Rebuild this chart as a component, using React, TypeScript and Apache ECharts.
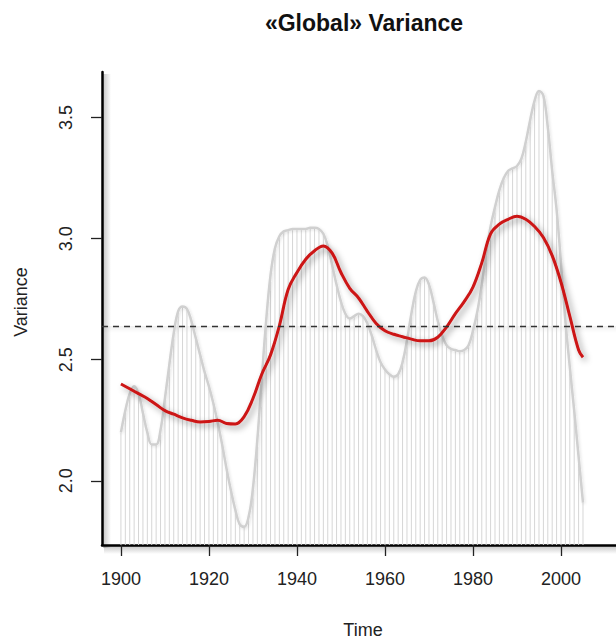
import React, { useEffect, useRef } from "react";
import * as echarts from "echarts";

const years: number[] = [];
for (let y = 1900; y <= 2005; y++) years.push(y);

const varianceValues: number[] = [
  2.20, 2.29, 2.36, 2.39, 2.36, 2.28, 2.20, 2.15, 2.15, 2.21,
  2.34, 2.48, 2.61, 2.70, 2.72, 2.71, 2.66, 2.59, 2.52, 2.45,
  2.39, 2.32, 2.24, 2.15, 2.05, 1.96, 1.88, 1.82, 1.81, 1.85,
  1.97, 2.17, 2.42, 2.66, 2.85, 2.96, 3.01, 3.03, 3.035, 3.04,
  3.04, 3.04, 3.04, 3.045, 3.045, 3.04, 3.02, 2.97, 2.89, 2.81,
  2.74, 2.69, 2.67, 2.68, 2.69, 2.68, 2.65, 2.60, 2.54, 2.49,
  2.46, 2.44, 2.43, 2.44, 2.49, 2.58, 2.69, 2.78, 2.83, 2.84,
  2.81, 2.74, 2.66, 2.60, 2.56, 2.545, 2.54, 2.535, 2.54, 2.56,
  2.62, 2.70, 2.81, 2.94, 3.05, 3.13, 3.20, 3.25, 3.28, 3.29,
  3.30, 3.33, 3.40, 3.49, 3.57, 3.61, 3.59, 3.46, 3.28, 3.12,
  2.90, 2.66, 2.47, 2.29, 2.10, 1.91,
];

const smoothYears: number[] = [
  1900, 1902, 1904, 1906, 1908, 1910, 1912, 1914, 1916, 1918,
  1920, 1922, 1924, 1926, 1928, 1930, 1932, 1934, 1936, 1938,
  1940, 1942, 1944, 1946, 1948, 1950, 1952, 1954, 1956, 1958,
  1960, 1962, 1964, 1966, 1968, 1970, 1972, 1974, 1976, 1978,
  1980, 1982, 1984, 1986, 1988, 1990, 1992, 1994, 1996, 1998,
  2000, 2002, 2004, 2005,
];
const smoothValues: number[] = [
  2.40, 2.38, 2.36, 2.34, 2.315, 2.29, 2.275, 2.26, 2.25, 2.243,
  2.245, 2.25, 2.237, 2.235, 2.265, 2.34, 2.44, 2.52, 2.64, 2.79,
  2.86, 2.915, 2.95, 2.97, 2.94, 2.86, 2.795, 2.755, 2.70, 2.65,
  2.62, 2.605, 2.595, 2.585, 2.578, 2.578, 2.593, 2.635, 2.69, 2.74,
  2.80, 2.90, 3.02, 3.06, 3.08, 3.092, 3.08, 3.05, 3.005, 2.93,
  2.82, 2.68, 2.54, 2.51,
];

const meanVariance = 2.64;
const xTicks: number[] = [1900, 1920, 1940, 1960, 1980, 2000];
const yTicks: number[] = [2.0, 2.5, 3.0, 3.5];

const FONT = "'Liberation Sans', Arial, Helvetica, sans-serif";

export default function App() {
  const ref = useRef<HTMLDivElement>(null);
  useEffect(() => {
    if (!ref.current) return;
    const chart = echarts.init(ref.current, undefined, { renderer: "svg" });
    const hShadow = (a: number) =>
      new echarts.graphic.LinearGradient(0, 0, 0, 1, [
        { offset: 0, color: `rgba(0,0,0,${a})` },
        { offset: 1, color: "rgba(0,0,0,0)" },
      ]);
    const vShadow = (a: number) =>
      new echarts.graphic.LinearGradient(0, 0, 1, 0, [
        { offset: 0, color: `rgba(0,0,0,${a})` },
        { offset: 1, color: "rgba(0,0,0,0)" },
      ]);
    chart.setOption({
      animation: false,
      backgroundColor: "#ffffff",
      grid: { left: 102, right: 0, top: 72, bottom: 94 },
      xAxis: {
        type: "value",
        min: 1895.7,
        max: 2012.5,
        splitLine: { show: false },
        axisLine: { show: true, onZero: false, lineStyle: { color: "#000", width: 2.5 } },
        axisTick: { show: true, customValues: xTicks, length: 11, lineStyle: { color: "#222", width: 1.3 } },
        axisLabel: {
          customValues: xTicks,
          margin: 25,
          fontSize: 18,
          fontFamily: FONT,
          color: "#222",
          formatter: (v: number) => String(Math.round(v)),
        },
      },
      yAxis: {
        type: "value",
        min: 1.735,
        max: 3.688,
        splitLine: { show: false },
        axisLine: { show: true, onZero: false, lineStyle: { color: "#000", width: 2.5 } },
        axisTick: { show: true, customValues: yTicks, length: 11, lineStyle: { color: "#222", width: 1.3 } },
        axisLabel: {
          customValues: yTicks,
          rotate: 90,
          margin: 27,
          fontSize: 18,
          fontFamily: FONT,
          color: "#222",
          formatter: (v: number) => v.toFixed(1),
        },
      },
      graphic: [
        {
          type: "rect",
          z: 0,
          silent: true,
          shape: { x: 103, y: 74, width: 8, height: 474 },
          style: { fill: vShadow(0.22) },
        },
        {
          type: "rect",
          z: 0,
          silent: true,
          shape: { x: 104, y: 546, width: 512, height: 8 },
          style: { fill: hShadow(0.22) },
        },
        {
          type: "rect",
          z: 0,
          silent: true,
          shape: { x: 104, y: 326, width: 512, height: 7 },
          style: { fill: hShadow(0.06) },
        },
        {
          type: "text",
          x: 364,
          y: 23,
          style: {
            text: "«Global» Variance",
            font: `bold 23px ${FONT}`,
            fill: "#111",
            align: "center",
            verticalAlign: "middle",
          },
        },
        {
          type: "text",
          x: 363,
          y: 630,
          style: {
            text: "Time",
            font: `18px ${FONT}`,
            fill: "#222",
            align: "center",
            verticalAlign: "middle",
          },
        },
        {
          type: "text",
          x: 21,
          y: 302,
          rotation: Math.PI / 2,
          style: {
            text: "Variance",
            font: `18px ${FONT}`,
            fill: "#222",
            align: "center",
            verticalAlign: "middle",
          },
        },
      ],
      series: [
        {
          type: "bar",
          data: years.map((y, i) => [y, varianceValues[i]]),
          barWidth: 1,
          itemStyle: { color: "#d6d6d6" },
          clip: true,
          silent: true,
          z: 1,
        },
        {
          type: "line",
          data: years.map((y, i) => [y, varianceValues[i]]),
          smooth: 0.4,
          symbol: "none",
          lineStyle: {
            color: "#d0d0d0",
            width: 2.5,
            shadowColor: "rgba(0,0,0,0.12)",
            shadowBlur: 3,
            shadowOffsetX: 1,
            shadowOffsetY: 1,
          },
          z: 2,
          markLine: {
            silent: true,
            symbol: "none",
            label: { show: false },
            lineStyle: {
              color: "#333",
              width: 1.3,
              type: [6, 5],
            },
            data: [{ yAxis: meanVariance }],
          },
        },
        {
          type: "line",
          data: smoothYears.map((y, i) => [y, smoothValues[i]]),
          smooth: 0.4,
          symbol: "none",
          lineStyle: {
            color: "#cc1414",
            width: 3,
            shadowColor: "rgba(0,0,0,0.4)",
            shadowBlur: 6,
            shadowOffsetX: 3,
            shadowOffsetY: 3,
          },
          z: 3,
        },
      ],
    });
    return () => chart.dispose();
  }, []);
  return (
    <div
      ref={ref}
      style={{ position: "absolute", left: 0, top: 0, width: 616, height: 639 }}
    />
  );
}
